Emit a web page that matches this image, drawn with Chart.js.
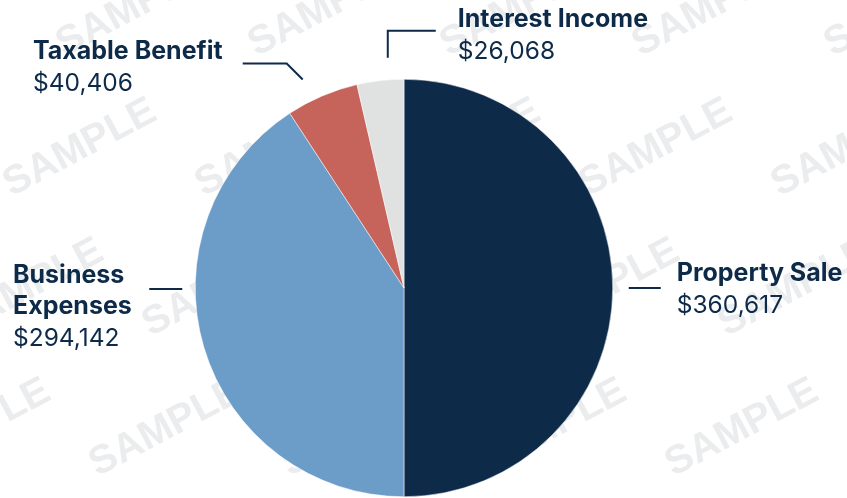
<!DOCTYPE html>
<html>
<head>
<meta charset="utf-8">
<script src="https://cdn.jsdelivr.net/npm/chart.js@4"></script>
<style>
  html, body { margin: 0; padding: 0; background: #fff; }
  #wrap { width: 847px; height: 498px; position: relative; }
</style>
</head>
<body>
<div id="wrap"><canvas id="pieChart" width="847" height="498"></canvas></div>
<script>
// chart data
const categories = ['Property Sale', 'Business Expenses', 'Taxable Benefit', 'Interest Income'];
const amounts = [360617, 294142, 40406, 26068];
const sliceColors = ['#0d2a48', '#6b9dc8', '#c6635b', '#e0e1e1'];

// label lines as shown next to the pie (title lines, then value)
const labelLines = [['Property Sale'], ['Business', 'Expenses'], ['Taxable Benefit'], ['Interest Income']];

// leader layout: t = position along the slice arc, gap = distance outside the pie
const leaderLayout = [
    { t: 0.5,  gap: 16, shape: 'right', len: 32, textGap: 16 },
    { t: 0.61, gap: 13, shape: 'left',  len: 33, textX: 13 },
    { t: 0.36, gap: 23, shape: 'elbowLeft', up: 16, len: 44, textX: 33 },
    { t: 0.69, gap: 22, shape: 'elbowRight', up: 27, len: 48, textGap: 22 }
];

const NAVY = '#0d2a48';
const fmt = (v) => '$' + v.toLocaleString('en-US');

const watermark = {
    id: 'watermark',
    beforeDatasetsDraw(chart) {
        const ctx = chart.ctx;
        ctx.save();
        ctx.fillStyle = '#ebecee';
        ctx.font = 'bold 40px "Liberation Sans", Arial, sans-serif';
        ctx.textAlign = 'center';
        ctx.textBaseline = 'middle';
        for (let j = -1; j < 6; j++) {
            for (let i = -2; i < 7; i++) {
                const cx = 80 + 192 * i - 53 * j;
                const cy = 148 + 140 * j;
                if (cx < -150 || cx > 1000 || cy < -80 || cy > 580) continue;
                ctx.save();
                ctx.translate(cx, cy);
                ctx.rotate(-28 * Math.PI / 180);
                ctx.fillText('SAMPLE', 0, 0);
                ctx.restore();
            }
        }
        ctx.restore();
    }
};

const leaderLabels = {
    id: 'leaderLabels',
    afterDatasetsDraw(chart) {
        const ctx = chart.ctx;
        const arcs = chart.getDatasetMeta(0).data;
        ctx.save();
        ctx.strokeStyle = NAVY;
        ctx.fillStyle = NAVY;
        ctx.lineWidth = 2;
        ctx.textBaseline = 'alphabetic';
        ctx.textAlign = 'left';
        const titleFont = 'bold 25px Inter, "Noto Sans", sans-serif';
        const valueFont = '24.5px Inter, "Noto Sans", sans-serif';
        const lineH = 31;

        arcs.forEach((arc, k) => {
            const L = leaderLayout[k];
            const a = arc.startAngle + L.t * (arc.endAngle - arc.startAngle);
            const R = arc.outerRadius + L.gap;
            let px = arc.x + Math.cos(a) * R;
            let py = arc.y + Math.sin(a) * R;
            let tx, ty;
            ctx.beginPath();
            if (L.shape === 'right') {
                py = arc.y;
                ctx.moveTo(px, py); ctx.lineTo(px + L.len, py);
                tx = px + L.len + L.textGap; ty = py - 7;
            } else if (L.shape === 'left') {
                py = arc.y + 1;
                ctx.moveTo(px, py); ctx.lineTo(px - L.len, py);
                tx = L.textX; ty = py - 6;
            } else if (L.shape === 'elbowLeft') {
                ctx.moveTo(px, py);
                ctx.lineTo(px - L.up, py - L.up);
                ctx.lineTo(px - L.up - L.len, py - L.up);
                tx = L.textX; ty = py - L.up - 5;
            } else {
                ctx.moveTo(px, py);
                ctx.lineTo(px, py - L.up);
                ctx.lineTo(px + L.len, py - L.up);
                tx = px + L.len + L.textGap; ty = py - L.up - 4;
            }
            ctx.stroke();

            const lines = labelLines[k];
            ctx.font = titleFont;
            lines.forEach((s, n) => ctx.fillText(s, tx, ty + n * lineH));
            ctx.font = valueFont;
            ctx.fillText(fmt(amounts[k]), tx, ty + lines.length * lineH + 1);
        });
        ctx.restore();
    }
};

new Chart(document.getElementById('pieChart'), {
    type: 'pie',
    data: {
        labels: categories,
        datasets: [{
            data: amounts,
            backgroundColor: sliceColors,
            borderColor: '#ffffff',
            borderWidth: 0.5
        }]
    },
    options: {
        responsive: false,
        animation: false,
        layout: { padding: { top: 79, bottom: 1, left: 195, right: 234 } },
        plugins: {
            legend: { display: false },
            tooltip: { enabled: false }
        }
    },
    plugins: [watermark, leaderLabels]
});
</script>
</body>
</html>
